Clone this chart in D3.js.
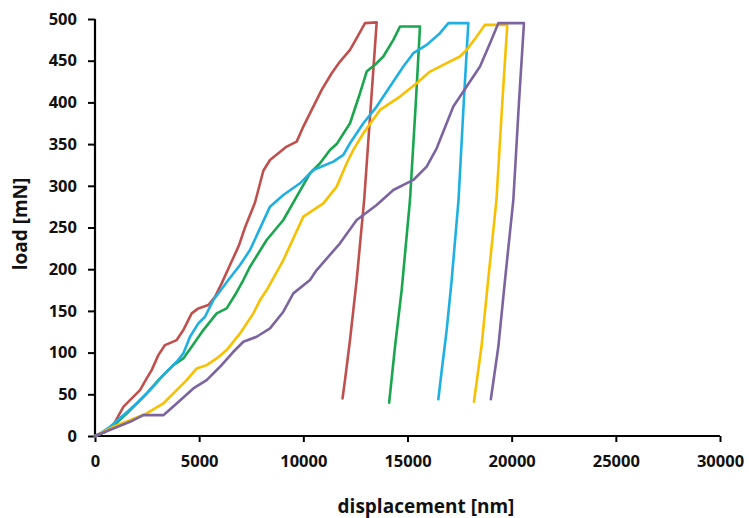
<!DOCTYPE html>
<html>
<head>
<meta charset="utf-8">
<script src="https://cdn.jsdelivr.net/npm/d3@7"></script>
<style>
  html, body { margin: 0; padding: 0; background: #fff; }
  svg { display: block; }
  text { font-family: "Open Sans", Lato, sans-serif; font-weight: bold; fill: #111; }
</style>
</head>
<body>
<svg id="chart" width="749" height="518"></svg>
<script>
// ---- data (displacement [nm], load [mN]) ----
const xTicks = [0, 5000, 10000, 15000, 20000, 25000, 30000];
const yTicks = [0, 50, 100, 150, 200, 250, 300, 350, 400, 450, 500];

const seriesColors = ["#C0504D", "#1AA64E", "#1EB0E3", "#F7C000", "#7B64A0"];

const red = [[0,0],[400,4],[880,13],[1360,35],[1680,43],[2160,55],[2480,69],[2720,79],[3040,97],[3360,109],[3920,115],[4240,127],[4640,147],[4960,153],[5440,157],[5760,167],[6080,183],[6480,205],[6900,228],[7200,250],[7680,280],[8080,318],[8400,331],[8800,339],[9200,347],[9680,353],[10000,371],[10400,391],[10880,415],[11360,435],[11760,449],[12240,463],[12560,477],[12960,495],[13520,496],[13250,400],[12920,283],[12560,187],[12240,115],[12000,67],[11880,45]];

const green = [[0,0],[500,5],[1000,15],[1520,27],[2480,51],[3120,69],[3760,85],[4240,93],[4640,107],[5200,127],[5840,147],[6320,153],[6720,169],[7120,187],[7440,203],[8240,235],[9040,259],[9680,287],[10320,315],[10800,327],[11280,343],[11600,350],[12240,375],[12720,411],[13040,437],[13520,447],[13840,455],[14320,475],[14640,491],[15600,491],[15400,400],[15120,283],[14720,175],[14400,107],[14120,40]];

const blue = [[0,0],[240,3],[720,11],[1360,25],[2000,39],[2640,55],[3280,73],[3920,89],[4240,99],[4560,119],[4960,135],[5280,143],[5680,163],[6160,179],[6400,187],[6960,205],[7440,223],[8400,275],[9040,289],[9840,303],[10480,319],[11440,329],[11920,337],[12240,351],[12880,375],[13520,395],[14160,419],[14800,443],[15280,459],[15920,469],[16560,483],[16960,495],[17920,495],[17700,400],[17450,283],[17120,187],[16880,127],[16650,80],[16480,44]];

const yellow = [[0,0],[880,11],[1680,19],[2480,27],[3280,39],[3920,55],[4400,67],[4880,81],[5360,85],[5840,93],[6320,103],[6960,123],[7600,147],[7920,163],[8240,175],[9040,211],[10000,263],[10960,279],[11600,299],[12080,327],[12400,343],[12880,363],[13680,391],[14640,407],[15440,423],[16080,437],[16880,447],[17520,455],[17840,463],[18320,479],[18720,493],[19790,493],[19550,400],[19270,283],[18870,187],[18550,107],[18190,41]];

const purple = [[0,0],[880,9],[1680,17],[2320,25],[3280,25],[3920,39],[4720,57],[5360,67],[6000,83],[6640,101],[7120,113],[7760,119],[8400,129],[9040,149],[9520,171],[10320,187],[10640,199],[11760,231],[12560,259],[13520,277],[14320,295],[15280,307],[15920,323],[16400,345],[17200,395],[17840,419],[18480,443],[18960,471],[19360,495],[20590,495],[20350,400],[20080,283],[19680,187],[19360,107],[19000,44]];

const series = [red, green, blue, yellow, purple];

// ---- layout ----
const svg = d3.select("#chart");
const mLeft = 95, mRight = 720, mTop = 19, mBottom = 436;

const x = d3.scaleLinear().domain([0, 30000]).range([mLeft, mRight]);
const y = d3.scaleLinear().domain([0, 500]).range([mBottom, mTop]);

// axes
const xAxis = d3.axisBottom(x).tickValues(xTicks).tickSize(6).tickPadding(13).tickFormat(d3.format("d"));
const yAxis = d3.axisLeft(y).tickValues(yTicks).tickSize(7).tickPadding(11).tickFormat(d3.format("d"));

const gx = svg.append("g").attr("transform", `translate(0,${mBottom})`).call(xAxis);
const gy = svg.append("g").attr("transform", `translate(${mLeft},0)`).call(yAxis);

[gx, gy].forEach(g => {
  g.select(".domain").attr("stroke", "#000").attr("stroke-width", 2.2);
  g.selectAll(".tick line").attr("stroke", "#000").attr("stroke-width", 2);
  g.selectAll(".tick text").attr("font-size", 16.5).attr("font-family", "'Open Sans', sans-serif").attr("font-weight", "bold").attr("fill", "#111");
});
gx.select(".domain").attr("d", `M${mLeft},0H${mRight}`);
gy.select(".domain").attr("d", `M0,${mBottom}V${mTop}`);

// lines
const line = d3.line().x(d => x(d[0])).y(d => y(d[1]));
svg.append("g").selectAll("path").data(series).join("path")
  .attr("d", line)
  .attr("fill", "none")
  .attr("stroke", (d, i) => seriesColors[i])
  .attr("stroke-width", 2.6)
  .attr("stroke-linejoin", "round")
  .attr("stroke-linecap", "round");

// axis titles
svg.append("text").attr("x", 426).attr("y", 513).attr("text-anchor", "middle")
  .attr("font-size", 19).text("displacement [nm]");
svg.append("text").attr("transform", "translate(27,224) rotate(-90)").attr("text-anchor", "middle")
  .attr("font-size", 19).text("load [mN]");
</script>
</body>
</html>
